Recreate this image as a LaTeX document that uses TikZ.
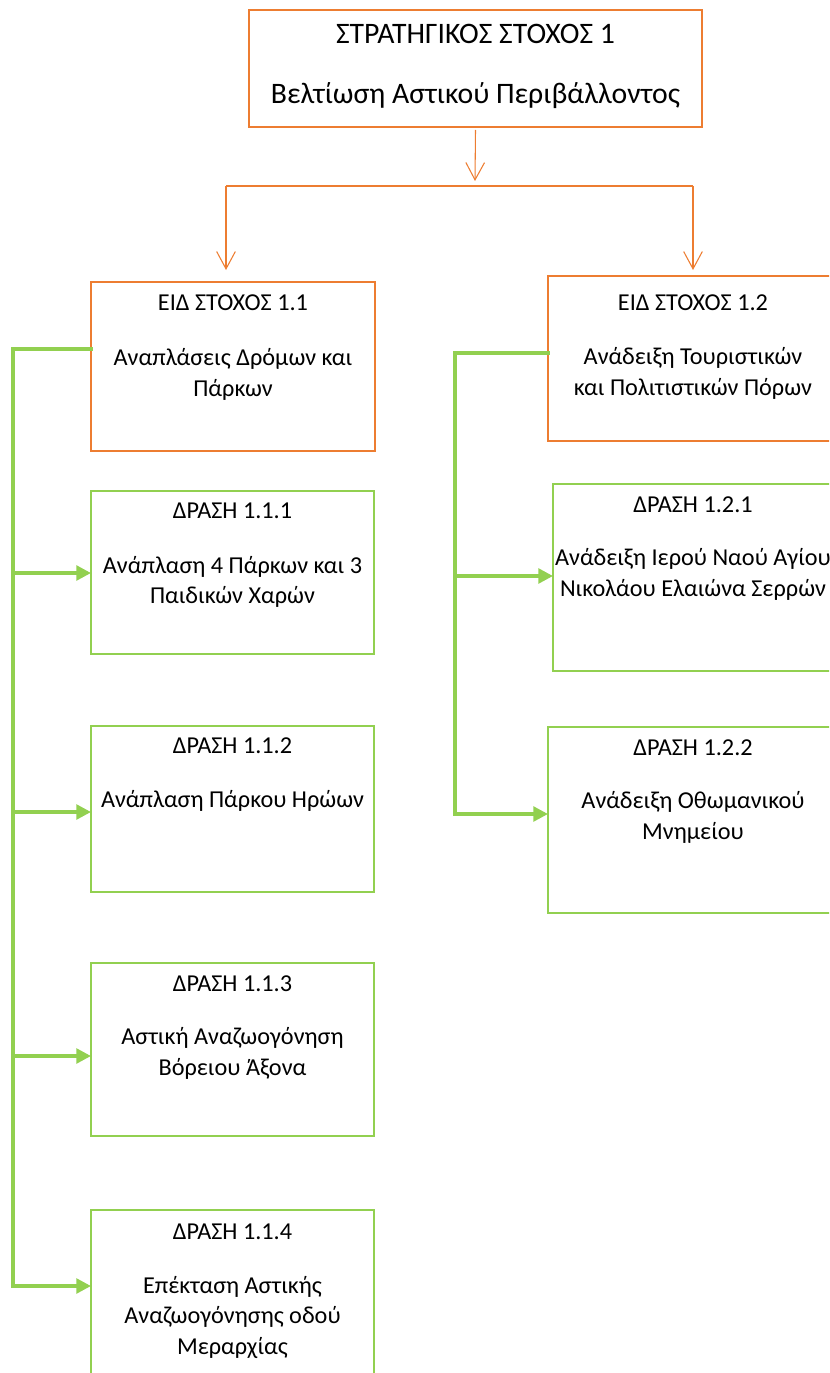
\documentclass[tikz,border=0pt]{standalone}
\usepackage{fontspec}
\setmainfont{Carlito}
\usetikzlibrary{arrows.meta}
\definecolor{obrd}{HTML}{ED7D31}
\definecolor{gbrd}{HTML}{92D050}
\tikzset{
  obox/.style={draw=obrd, line width=2pt, inner sep=0pt, outer sep=0pt},
  gbox/.style={draw=gbrd, line width=1.8pt, inner sep=0pt, outer sep=0pt},
  oline/.style={draw=obrd, line width=0.8pt},
  oarrow/.style={oline, -{Straight Barb[length=13pt,width=14pt,line width=0.8pt]}},
  gline/.style={draw=gbrd, line width=2.6pt},
  garrow/.style={gline, -{Triangle[length=11pt,width=11pt]}},
  bigtxt/.style={font=\fontsize{22.3}{26}\selectfont, inner sep=0pt, anchor=base},
  txt/.style={font=\fontsize{18.2}{22}\selectfont, inner sep=0pt, anchor=base},
}
\begin{document}
\begin{tikzpicture}[x=0.75pt,y=-0.75pt]
\useasboundingbox (0,0) rectangle (829,1373);
\clip (0,0) rectangle (829,1373);
% boxes
\node[obox, minimum width=453*0.75pt, minimum height=117*0.75pt] (top) at (475.5,68.5) {};
\node[obox, minimum width=284*0.75pt, minimum height=169*0.75pt] (b11) at (233,366.5) {};
\node[obox, minimum width=290*0.75pt, minimum height=165*0.75pt] (b12) at (693,358.5) {};
\node[gbox, minimum width=283*0.75pt, minimum height=163*0.75pt] (a111) at (232.5,572.5) {};
\node[gbox, minimum width=283*0.75pt, minimum height=166*0.75pt] (a112) at (232.5,809) {};
\node[gbox, minimum width=283*0.75pt, minimum height=173*0.75pt] (a113) at (232.5,1049.5) {};
\node[gbox, minimum width=283*0.75pt, minimum height=170*0.75pt] (a114) at (232.5,1295) {};
\node[gbox, minimum width=280*0.75pt, minimum height=187*0.75pt] (a121) at (693,577.5) {};
\node[gbox, minimum width=290*0.75pt, minimum height=186*0.75pt] (a122) at (693,820) {};
% texts
\node[bigtxt] (t1) at (475.5,44) {ΣΤΡΑΤΗΓΙΚΟΣ ΣΤΟΧΟΣ 1};
\node[bigtxt] (t2) at (475.5,104) {Βελτίωση Αστικού Περιβάλλοντος};
\node[txt] (t11a) at (233,310) {ΕΙΔ ΣΤΟΧΟΣ 1.1};
\node[txt] (t11b) at (233,365) {Αναπλάσεις Δρόμων και};
\node[txt] (t11c) at (233,396) {Πάρκων};
\node[txt] (t12a) at (693,310) {ΕΙΔ ΣΤΟΧΟΣ 1.2};
\node[txt] (t12b) at (693,364) {Ανάδειξη Τουριστικών};
\node[txt] (t12c) at (693,395) {και Πολιτιστικών Πόρων};
\node[txt] (t111a) at (232.5,518) {ΔΡΑΣΗ 1.1.1};
\node[txt] (t111b) at (232.5,573) {Ανάπλαση 4 Πάρκων και 3};
\node[txt] (t111c) at (232.5,603) {Παιδικών Χαρών};
\node[txt] (t112a) at (232.5,753) {ΔΡΑΣΗ 1.1.2};
\node[txt] (t112b) at (232.5,807) {Ανάπλαση Πάρκου Ηρώων};
\node[txt] (t113a) at (232.5,991) {ΔΡΑΣΗ 1.1.3};
\node[txt] (t113b) at (232.5,1044) {Αστική Αναζωογόνηση};
\node[txt] (t113c) at (232.5,1075) {Βόρειου Άξονα};
\node[txt] (t114a) at (232.5,1239) {ΔΡΑΣΗ 1.1.4};
\node[txt] (t114b) at (232.5,1293) {Επέκταση Αστικής};
\node[txt] (t114c) at (232.5,1323) {Αναζωογόνησης οδού};
\node[txt] (t114d) at (232.5,1354) {Μεραρχίας};
\node[txt] (t121a) at (693,512) {ΔΡΑΣΗ 1.2.1};
\node[txt] (t121b) at (693,565) {Ανάδειξη Ιερού Ναού Αγίου};
\node[txt] (t121c) at (693,596) {Νικολάου Ελαιώνα Σερρών};
\node[txt] (t122a) at (693,755) {ΔΡΑΣΗ 1.2.2};
\node[txt] (t122b) at (693,808) {Ανάδειξη Οθωμανικού};
\node[txt] (t122c) at (693,839) {Μνημείου};
% orange connectors
\coordinate (j) at (475,181);
\coordinate (hl) at (226,186);
\coordinate (hr) at (693,186);
\coordinate (el) at (226,270);
\coordinate (er) at (693,270);
\draw[oarrow] ([yshift=-3*0.75pt]top.south) -- (j);
\draw[oline] (hl) -- (hr);
\draw[oarrow] (hl) -- (el);
\draw[oarrow] (hr) -- (er);
% green connectors left
\coordinate (gl0) at (13,349);
\coordinate (gl1) at (13,1286);
\draw[gline, line cap=rect] (b11.west |- gl0) -- (gl0) -- (gl1);
\draw[garrow] (13,573) -- (a111.west |- 0,573);
\draw[garrow] (13,812) -- (a112.west |- 0,812);
\draw[garrow] (13,1056) -- (a113.west |- 0,1056);
\draw[garrow] (gl1) -- (a114.west |- gl1);
% green connectors right
\coordinate (gr0) at (455,353);
\coordinate (gr1) at (455,814);
\draw[gline, line cap=rect] (b12.west |- gr0) -- (gr0) -- (gr1);
\draw[garrow] (455,576) -- (a121.west |- 0,576);
\draw[garrow] (gr1) -- (a122.west |- gr1);
\end{tikzpicture}
\end{document}
